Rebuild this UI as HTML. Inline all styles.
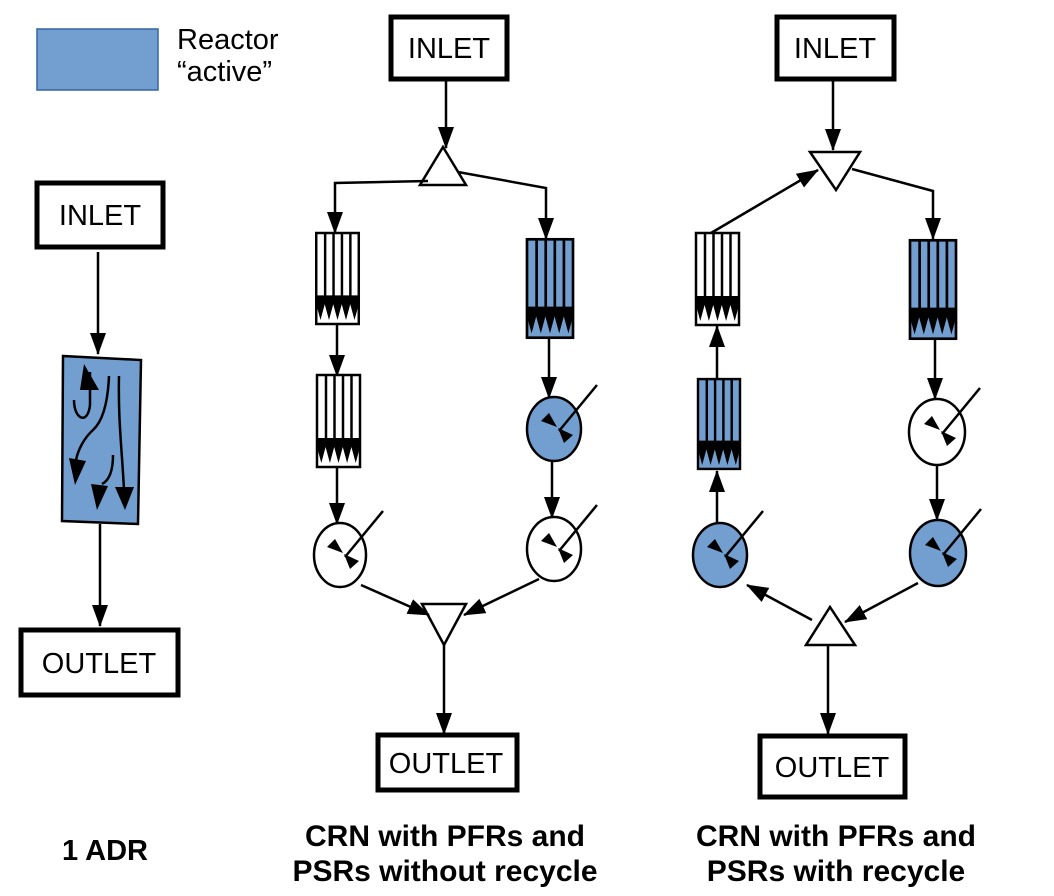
<!DOCTYPE html>
<html><head><meta charset="utf-8"><style>
html,body{margin:0;padding:0;background:#fff;}
svg{display:block;}
text{font-family:"Liberation Sans",sans-serif;fill:#000;}
</style></head><body>
<svg width="1054" height="896" viewBox="0 0 1054 896" xmlns="http://www.w3.org/2000/svg">
<defs>
<marker id="ar" markerWidth="22" markerHeight="18" refX="21" refY="9" orient="auto" markerUnits="userSpaceOnUse">
<path d="M0,1 L22,9 L0,17 Z" fill="#000"/></marker>
<symbol id="pfrw" viewBox="0 0 43 92" overflow="visible">
<rect x="0" y="0" width="43" height="92" fill="#fff" stroke="#000" stroke-width="2.5"/>
<g stroke="#000" stroke-width="2.5"><line x1="9" y1="0" x2="9" y2="66"/><line x1="17.5" y1="0" x2="17.5" y2="66"/><line x1="26" y1="0" x2="26" y2="66"/><line x1="34.5" y1="0" x2="34.5" y2="66"/></g>
<path d="M0,63 H43 V72 L38.7,88 L34.4,72 L30.1,88 L25.8,72 L21.5,88 L17.2,72 L12.9,88 L8.6,72 L4.3,88 L0,72 Z" fill="#000"/>
</symbol>
<symbol id="pfrb" viewBox="0 0 43 92" overflow="visible">
<rect x="0" y="0" width="43" height="92" fill="#729fcf" stroke="#000" stroke-width="2.5"/>
<g stroke="#000" stroke-width="2.5"><line x1="9" y1="0" x2="9" y2="66"/><line x1="17.5" y1="0" x2="17.5" y2="66"/><line x1="26" y1="0" x2="26" y2="66"/><line x1="34.5" y1="0" x2="34.5" y2="66"/></g>
<path d="M0,63 H43 V72 L38.7,88 L34.4,72 L30.1,88 L25.8,72 L21.5,88 L17.2,72 L12.9,88 L8.6,72 L4.3,88 L0,72 Z" fill="#000"/>
</symbol>
<g id="mix"><path d="M-16,-6 L0,0 L-8,-14 Z M1,1 L7,16 L16,8 Z" fill="#000"/><line x1="2" y1="4" x2="40" y2="-42" stroke="#000" stroke-width="2.5"/></g>
</defs>

<rect x="37" y="29" width="121" height="61" fill="#729fcf" stroke="#3465a4" stroke-width="1.5"/>
<text x="177" y="49" font-size="29">Reactor</text>
<text x="177" y="81" font-size="29">“active”</text>

<rect x="37" y="183" width="126" height="64" fill="#fff" stroke="#000" stroke-width="5"/>
<text x="100" y="225" font-size="29" text-anchor="middle">INLET</text>
<line x1="98" y1="252" x2="98" y2="354" stroke="#000" stroke-width="2.5" marker-end="url(#ar)"/>
<path d="M63,356 L141,360 L138,524 L62,521 Z" fill="#729fcf" stroke="#000" stroke-width="2.5"/>
<g fill="none" stroke="#000" stroke-width="2.5">
<path d="M109,376 C108,400 104,420 93,430 C84,438 78,450 76,460"/>
<path d="M119,376 C118,420 122,450 124,490"/>
<path d="M113,455 C113,470 110,480 102,484"/>
<path d="M74,400 C74,420 88,425 90,405 L90,372"/>
</g>
<path d="M84,364 L80,390 L99,390 Z M69,458 L75,485 L86,461 Z M91,484 L97,510 L108,486 Z M115,487 L125,510 L134,487 Z" fill="#000"/>
<line x1="100" y1="524" x2="100" y2="626" stroke="#000" stroke-width="2.5" marker-end="url(#ar)"/>
<rect x="21" y="630" width="157" height="65" fill="#fff" stroke="#000" stroke-width="5"/>
<text x="99" y="673" font-size="29" text-anchor="middle">OUTLET</text>
<text x="105" y="860" font-size="29" font-weight="bold" text-anchor="middle">1 ADR</text>

<rect x="391" y="17" width="116" height="62" fill="#fff" stroke="#000" stroke-width="5"/>
<text x="449" y="58" font-size="29" text-anchor="middle">INLET</text>
<line x1="446" y1="80" x2="446" y2="148" stroke="#000" stroke-width="2.5" marker-end="url(#ar)"/>
<path d="M443,147 L420,185 L466,185 Z" fill="#fff" stroke="#000" stroke-width="2.5"/>
<polyline points="428,181 335,183 335,233" fill="none" stroke="#000" stroke-width="2.5" marker-end="url(#ar)"/>
<polyline points="458,172 546,188 546,239" fill="none" stroke="#000" stroke-width="2.5" marker-end="url(#ar)"/>
<use href="#pfrw" x="316" y="233" width="43" height="91"/>
<use href="#pfrb" x="527" y="238" width="46" height="101"/>
<line x1="337" y1="324" x2="337" y2="376" stroke="#000" stroke-width="2.5" marker-end="url(#ar)"/>
<use href="#pfrw" x="317" y="375" width="43" height="92"/>
<line x1="337" y1="467" x2="337" y2="524" stroke="#000" stroke-width="2.5" marker-end="url(#ar)"/>
<ellipse cx="340" cy="555" rx="26" ry="32" fill="#fff" stroke="#000" stroke-width="2.5"/>
<use href="#mix" x="343" y="553"/>
<line x1="549" y1="339" x2="549" y2="398" stroke="#000" stroke-width="2.5" marker-end="url(#ar)"/>
<ellipse cx="554" cy="429" rx="27" ry="32" fill="#729fcf" stroke="#000" stroke-width="2.5"/>
<use href="#mix" x="557" y="427"/>
<line x1="552" y1="461" x2="552" y2="518" stroke="#000" stroke-width="2.5" marker-end="url(#ar)"/>
<ellipse cx="554" cy="549" rx="27" ry="32" fill="#fff" stroke="#000" stroke-width="2.5"/>
<use href="#mix" x="557" y="547"/>
<path d="M422,604 L466,604 L444,645 Z" fill="#fff" stroke="#000" stroke-width="2.5"/>
<line x1="361" y1="585" x2="429" y2="615" stroke="#000" stroke-width="2.5" marker-end="url(#ar)"/>
<line x1="539" y1="579" x2="464" y2="615" stroke="#000" stroke-width="2.5" marker-end="url(#ar)"/>
<line x1="444" y1="645" x2="444" y2="734" stroke="#000" stroke-width="2.5" marker-end="url(#ar)"/>
<rect x="378" y="735" width="139" height="55" fill="#fff" stroke="#000" stroke-width="5"/>
<text x="446" y="773" font-size="29" text-anchor="middle">OUTLET</text>
<text x="445" y="846" font-size="30" font-weight="bold" text-anchor="middle">CRN with PFRs and</text>
<text x="445" y="881" font-size="30" font-weight="bold" text-anchor="middle">PSRs without recycle</text>

<rect x="777" y="17" width="117" height="62" fill="#fff" stroke="#000" stroke-width="5"/>
<text x="835" y="58" font-size="29" text-anchor="middle">INLET</text>
<line x1="833" y1="80" x2="833" y2="150" stroke="#000" stroke-width="2.5" marker-end="url(#ar)"/>
<path d="M810,152 L860,152 L836,190 Z" fill="#fff" stroke="#000" stroke-width="2.5"/>
<line x1="711" y1="233" x2="818" y2="170" stroke="#000" stroke-width="2.5" marker-end="url(#ar)"/>
<polyline points="852,169 933,191 933,239" fill="none" stroke="#000" stroke-width="2.5" marker-end="url(#ar)"/>
<use href="#pfrw" x="696" y="233" width="43" height="92"/>
<use href="#pfrb" x="910" y="239" width="46" height="101"/>
<line x1="717" y1="378" x2="717" y2="326" stroke="#000" stroke-width="2.5" marker-end="url(#ar)"/>
<use href="#pfrb" x="698" y="378" width="42" height="92"/>
<line x1="717" y1="523" x2="717" y2="471" stroke="#000" stroke-width="2.5" marker-end="url(#ar)"/>
<ellipse cx="720" cy="555" rx="27" ry="32" fill="#729fcf" stroke="#000" stroke-width="2.5"/>
<use href="#mix" x="723" y="553"/>
<line x1="935" y1="340" x2="935" y2="399" stroke="#000" stroke-width="2.5" marker-end="url(#ar)"/>
<ellipse cx="937" cy="432" rx="28" ry="33" fill="#fff" stroke="#000" stroke-width="2.5"/>
<use href="#mix" x="940" y="430"/>
<line x1="937" y1="465" x2="937" y2="520" stroke="#000" stroke-width="2.5" marker-end="url(#ar)"/>
<ellipse cx="938" cy="553" rx="28" ry="33" fill="#729fcf" stroke="#000" stroke-width="2.5"/>
<use href="#mix" x="941" y="551"/>
<path d="M830,607 L806,645 L855,645 Z" fill="#fff" stroke="#000" stroke-width="2.5"/>
<line x1="812" y1="620" x2="747" y2="585" stroke="#000" stroke-width="2.5" marker-end="url(#ar)"/>
<line x1="918" y1="583" x2="845" y2="622" stroke="#000" stroke-width="2.5" marker-end="url(#ar)"/>
<line x1="828" y1="645" x2="828" y2="734" stroke="#000" stroke-width="2.5" marker-end="url(#ar)"/>
<rect x="760" y="736" width="145" height="61" fill="#fff" stroke="#000" stroke-width="5"/>
<text x="832" y="777" font-size="29" text-anchor="middle">OUTLET</text>
<text x="836" y="846" font-size="30" font-weight="bold" text-anchor="middle">CRN with PFRs and</text>
<text x="836" y="881" font-size="30" font-weight="bold" text-anchor="middle">PSRs with recycle</text>
</svg>
</body></html>
